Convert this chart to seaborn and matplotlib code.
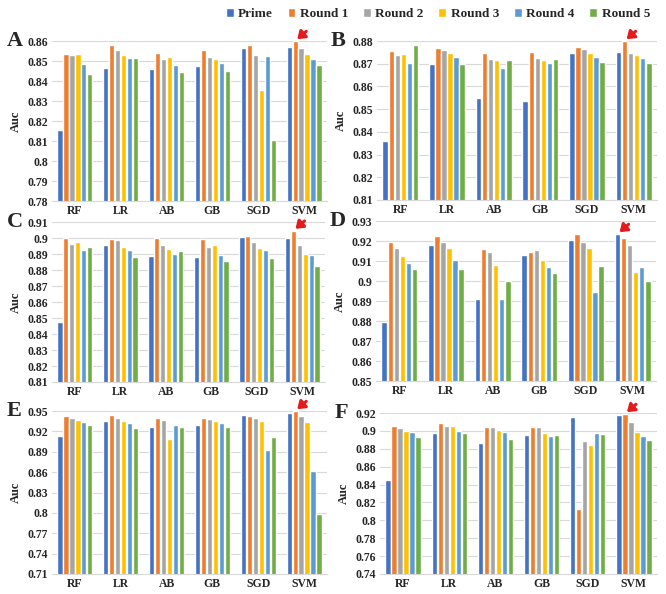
import matplotlib
matplotlib.use("Agg")
import matplotlib.pyplot as plt
import seaborn as sns
import pandas as pd
import numpy as np
from matplotlib.ticker import FuncFormatter, FixedLocator

models = ["RF", "LR", "AB", "GB", "SGD", "SVM"]
series = ["Prime", "Round 1", "Round 2", "Round 3", "Round 4", "Round 5"]
colors = ["#4472C4", "#ED7D31", "#A5A5A5", "#FFC000", "#5B9BD5", "#70AD47"]

# rows = series (Prime, Round 1..5), columns = models
panel_A = [
    [0.8155, 0.8465, 0.8460, 0.8475, 0.8567, 0.8570],
    [0.8537, 0.8580, 0.8538, 0.8553, 0.8580, 0.8600],
    [0.8528, 0.8553, 0.8512, 0.8520, 0.8532, 0.8563],
    [0.8537, 0.8532, 0.8520, 0.8508, 0.8353, 0.8537],
    [0.8485, 0.8515, 0.8480, 0.8490, 0.8525, 0.8512],
    [0.8437, 0.8513, 0.8447, 0.8450, 0.8105, 0.8478],
]
panel_B = [
    [0.8360, 0.8699, 0.8550, 0.8534, 0.8746, 0.8751],
    [0.8754, 0.8768, 0.8747, 0.8750, 0.8774, 0.8800],
    [0.8740, 0.8762, 0.8721, 0.8724, 0.8763, 0.8747],
    [0.8741, 0.8747, 0.8715, 0.8716, 0.8746, 0.8740],
    [0.8701, 0.8731, 0.8681, 0.8701, 0.8729, 0.8726],
    [0.8782, 0.8699, 0.8718, 0.8722, 0.8707, 0.8701],
]
panel_C = [
    [0.8477, 0.8956, 0.8885, 0.8880, 0.9006, 0.8999],
    [0.8997, 0.8991, 0.8997, 0.8991, 0.9010, 0.9046],
    [0.8964, 0.8987, 0.8954, 0.8941, 0.8972, 0.8958],
    [0.8977, 0.8941, 0.8933, 0.8954, 0.8937, 0.8897],
    [0.8924, 0.8928, 0.8899, 0.8891, 0.8926, 0.8893],
    [0.8941, 0.8882, 0.8918, 0.8855, 0.8874, 0.8828],
]
panel_D = [
    [0.8796, 0.9180, 0.8911, 0.9130, 0.9207, 0.9235],
    [0.9195, 0.9225, 0.9161, 0.9146, 0.9233, 0.9213],
    [0.9163, 0.9195, 0.9143, 0.9155, 0.9197, 0.9178],
    [0.9125, 0.9166, 0.9078, 0.9105, 0.9163, 0.9045],
    [0.9088, 0.9104, 0.8912, 0.9068, 0.8944, 0.9070],
    [0.9058, 0.9058, 0.8998, 0.9038, 0.9076, 0.9001],
]
panel_E = [
    [0.9126, 0.9357, 0.9259, 0.9288, 0.9436, 0.9466],
    [0.9421, 0.9436, 0.9392, 0.9392, 0.9426, 0.9500],
    [0.9392, 0.9392, 0.9367, 0.9377, 0.9402, 0.9431],
    [0.9362, 0.9352, 0.9092, 0.9352, 0.9352, 0.9333],
    [0.9333, 0.9323, 0.9288, 0.9328, 0.8924, 0.8610],
    [0.9288, 0.9254, 0.9259, 0.9259, 0.9111, 0.7985],
]
panel_F = [
    [0.8446, 0.8976, 0.8864, 0.8957, 0.9155, 0.9181],
    [0.9058, 0.9092, 0.9047, 0.9039, 0.8124, 0.9189],
    [0.9032, 0.9058, 0.9039, 0.9039, 0.8890, 0.9095],
    [0.8994, 0.9058, 0.9006, 0.8980, 0.8845, 0.8987],
    [0.8983, 0.8994, 0.8983, 0.8942, 0.8976, 0.8939],
    [0.8931, 0.8976, 0.8909, 0.8950, 0.8965, 0.8894],
]

panels = [
    ("A", panel_A, (0.78, 0.86, 0.01), (52, 327, 41, 201), 1),
    ("B", panel_B, (0.81, 0.88, 0.01), (377, 657, 41, 200), 1),
    ("C", panel_C, (0.81, 0.91, 0.01), (52, 325, 222, 382), 1),
    ("D", panel_D, (0.85, 0.93, 0.01), (376, 656, 221, 381), 0),
    ("E", panel_E, (0.71, 0.95, 0.03), (52, 327, 411, 574), 1),
    ("F", panel_F, (0.74, 0.92, 0.02), (380, 657, 413, 574), 1),
]

W, H = 666, 594
sns.set_theme(style="white")
plt.rcParams["font.family"] = ["Liberation Serif", "DejaVu Serif"]
plt.rcParams["font.weight"] = "bold"

fig = plt.figure(figsize=(W / 100, H / 100), dpi=100)
fig.patch.set_facecolor("white")

def fmt(v, pos):
    return f"{v:.2f}".rstrip("0").rstrip(".")

handles = None
for letter, data, (ymin, ymax, step), (l, r, t, b), hl_series in panels:
    ax = fig.add_axes([l / W, (H - b) / H, (r - l) / W, (b - t) / H])
    rows = []
    for si, s in enumerate(series):
        for mi, m in enumerate(models):
            rows.append({"model": m, "series": s, "auc": data[si][mi]})
    df = pd.DataFrame(rows)
    sns.barplot(data=df, x="model", y="auc", hue="series", order=models,
                hue_order=series, palette=colors, width=0.78, gap=0.12,
                ax=ax, saturation=1, legend=True)
    ax.set_ylim(ymin, ymax + 1e-9)
    ticks = np.round(np.arange(ymin, ymax + step / 2, step), 2)
    ax.yaxis.set_major_locator(FixedLocator(ticks))
    ax.yaxis.set_major_formatter(FuncFormatter(fmt))
    ax.grid(axis="y", color="#D9D9D9", linewidth=0.8)
    ax.set_axisbelow(True)
    for sp in ["top", "right", "left"]:
        ax.spines[sp].set_visible(False)
    ax.spines["bottom"].set_color("#D9D9D9")
    ax.spines["bottom"].set_linewidth(0.8)
    ax.tick_params(axis="both", length=0, labelsize=8.5, pad=3)
    for lab in ax.get_xticklabels() + ax.get_yticklabels():
        lab.set_fontweight("bold")
    ax.set_xlabel("")
    ax.set_ylabel("Auc", fontsize=9, fontweight="bold", labelpad=4)
    if handles is None:
        handles, labels = ax.get_legend_handles_labels()
    ax.get_legend().remove()
    ax.text(-0.165, 1.0, letter, transform=ax.transAxes, fontsize=16,
            fontweight="bold", ha="left", va="center")
    # highlight arrow on the best SVM bar
    bar = ax.containers[hl_series][models.index("SVM")]
    bx = bar.get_x() + bar.get_width() / 2
    by = bar.get_height()
    ax.annotate("", xy=(bx, by), xycoords="data",
                xytext=(8, 7), textcoords="offset points",
                arrowprops=dict(arrowstyle="-|>,head_length=0.35,head_width=0.25",
                                color="#E41A1C", lw=2.2, shrinkA=0, shrinkB=2),
                annotation_clip=False)

leg = fig.legend(handles, labels, loc="center right", bbox_to_anchor=(662 / W, 1 - 14 / H),
                 ncol=6, frameon=False, handlelength=0.6,
                 handleheight=0.6, handletextpad=0.35, columnspacing=1.1,
                 prop={"weight": "bold", "size": 9.5})

fig.savefig("out.png", dpi=100, facecolor="white")
